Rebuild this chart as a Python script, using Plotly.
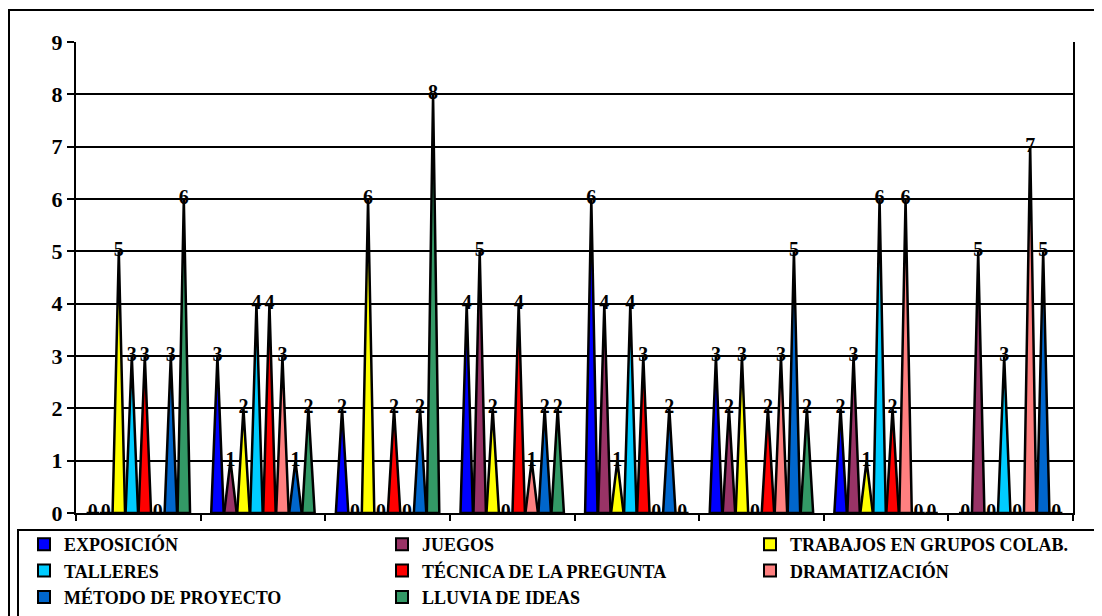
import plotly.graph_objects as go

categories = ["1", "2", "3", "4", "5", "6", "7", "8"]
series_names = ["EXPOSICIÓN", "JUEGOS", "TRABAJOS EN GRUPOS COLAB.", "TALLERES",
                "TÉCNICA DE LA PREGUNTA", "DRAMATIZACIÓN", "MÉTODO DE PROYECTO", "LLUVIA DE IDEAS"]
exposicion = [0, 3, 2, 4, 6, 3, 2, 0]
juegos = [0, 1, 0, 5, 4, 2, 3, 5]
trabajos = [5, 2, 6, 2, 1, 3, 1, 0]
talleres = [3, 4, 0, 0, 4, 0, 6, 3]
tecnica = [3, 4, 2, 4, 3, 2, 2, 0]
dramatizacion = [0, 3, 0, 1, 0, 3, 6, 7]
metodo = [3, 1, 2, 2, 2, 5, 0, 5]
lluvia = [6, 2, 8, 2, 0, 2, 0, 0]
y_ticks = [0, 1, 2, 3, 4, 5, 6, 7, 8, 9]

values = [exposicion, juegos, trabajos, talleres, tecnica, dramatizacion, metodo, lluvia]
colors = ["#0000FF", "#993366", "#FFFF00", "#00CCFF", "#FF0000", "#FF8080", "#0066CC", "#339966"]
legend_ids = ["legend", "legend2", "legend3", "legend", "legend2", "legend3", "legend", "legend2"]

FONT = "Liberation Serif, Times New Roman, Tinos, DejaVu Serif, serif"
n_series = len(values)
spacing = 0.1043
half = 0.05

# figure is placed at (8, 8) in the page (default body margin)
W, H = 1094, 608
ML, MR, MT, MB = 68, 29, 34, 103
PW, PH = W - ML - MR, H - MT - MB


def px_x(fx):
    return (fx - ML) / PW


def px_y(fy):
    return (H - MB - fy) / PH


fig = go.Figure()

for j, (name, vals, col) in enumerate(zip(series_names, values, colors)):
    xs, ys = [], []
    for i, v in enumerate(vals):
        xc = i + 0.5 + (j - (n_series - 1) / 2) * spacing
        xs += [xc - half, xc, xc + half, xc - half, None]
        ys += [0, v, 0, 0, None]
    fig.add_trace(go.Scatter(
        x=xs, y=ys, mode="lines", fill="toself", fillcolor=col,
        line=dict(color="black", width=2.5), showlegend=False, hoverinfo="skip",
        name=name))

for j, (name, vals) in enumerate(zip(series_names, values)):
    centers = [i + 0.5 + (j - (n_series - 1) / 2) * spacing for i in range(len(vals))]
    fig.add_trace(go.Scatter(
        x=centers, y=vals, mode="text", text=[str(v) for v in vals],
        textposition="middle center",
        textfont=dict(family=FONT, size=20, color="black", weight="bold"),
        showlegend=False, hovertext=categories, name=name))

for j, (name, col) in enumerate(zip(series_names, colors)):
    fig.add_trace(go.Bar(
        x=[None], y=[None], name=name, marker=dict(color=col, line=dict(color="black", width=2)),
        legend=legend_ids[j], legendgroup=name, showlegend=True))

legend_common = dict(
    font=dict(family=FONT, size=18, color="black", weight="bold"),
    orientation="v", yanchor="top", xanchor="left", y=px_y(518),
    bgcolor="rgba(0,0,0,0)", borderwidth=0, traceorder="normal",
    itemclick=False, itemdoubleclick=False,
)

fig.update_layout(
    width=W, height=H,
    margin=dict(l=ML, r=MR, t=MT, b=MB, autoexpand=False),
    paper_bgcolor="white", plot_bgcolor="white",
    barmode="overlay",
    xaxis=dict(range=[0, 8], tickmode="array", tickvals=list(range(0, 9)),
               showticklabels=False, ticks="outside", ticklen=6, tickwidth=2, tickcolor="black",
               showline=True, linecolor="black", linewidth=2, showgrid=False, zeroline=False,
               fixedrange=True),
    yaxis=dict(range=[0, 9], tickmode="array", tickvals=y_ticks,
               ticks="outside", ticklen=7, tickwidth=2, tickcolor="black",
               tickfont=dict(family=FONT, size=22, color="black", weight="bold"),
               showline=True, linecolor="black", linewidth=2, mirror=True,
               showgrid=True, gridcolor="black", gridwidth=2, zeroline=False,
               fixedrange=True),
    legend=dict(x=px_x(16), **legend_common),
    legend2=dict(x=px_x(374), **legend_common),
    legend3=dict(x=px_x(742), **legend_common),
    shapes=[
        dict(type="rect", xref="paper", yref="paper",
             x0=px_x(1), x1=px_x(W + 10),
             y0=px_y(H + 10), y1=px_y(2),
             line=dict(color="black", width=2), fillcolor="rgba(0,0,0,0)", layer="below"),
        dict(type="rect", xref="paper", yref="paper",
             x0=px_x(10), x1=px_x(W + 10),
             y0=px_y(H + 10), y1=px_y(522),
             line=dict(color="black", width=2), fillcolor="rgba(0,0,0,0)", layer="below"),
    ],
    showlegend=True,
)

fig.write_html("out.html")
